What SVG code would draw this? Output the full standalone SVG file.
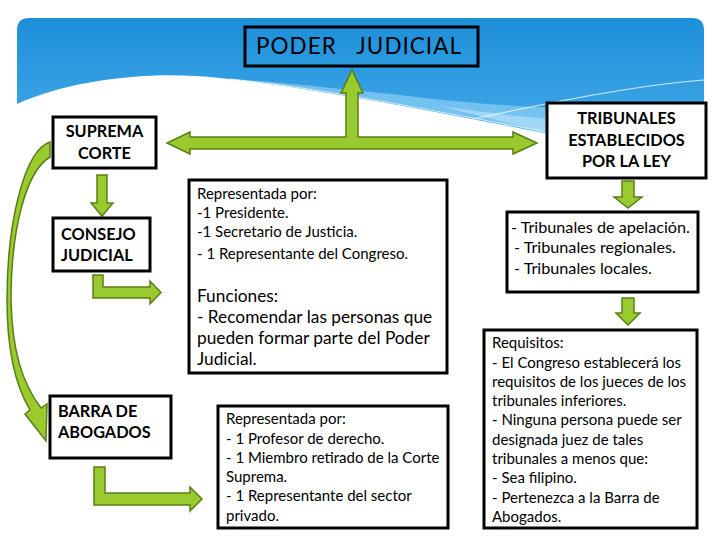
<svg xmlns="http://www.w3.org/2000/svg" width="720" height="540" viewBox="0 0 720 540">
<defs>
<linearGradient id="sky" x1="0" y1="0" x2="0" y2="1">
<stop offset="0" stop-color="#1c8fd9"/>
<stop offset="1" stop-color="#4fb0ec"/>
</linearGradient>
<style>
.box{fill:#fff;stroke:#000;stroke-width:3}
.arr{fill:#9acb2e;stroke:#5b7d19;stroke-width:1.5;stroke-linejoin:miter}
.t{font-family:Lato,"Open Sans","DejaVu Sans",sans-serif;fill:#000}
.b{font-weight:bold;font-size:16.3px}
.s{font-size:15px}
.m{font-size:17.3px}
</style>
</defs>
<rect width="720" height="540" fill="#fff"/>
<g id="banner">
<path d="M17 30 Q17 18 29 18 L692 18 Q704 18 704 30 L704 168 L560 136 C450 115 330 90 220 78 C150 70 70 80 17 104 Z" fill="url(#sky)"/>
<path d="M240 80 C330 90 450 112 560 136 L704 168 L704 105 C620 112 520 110 400 95 C330 88 280 82 240 80 Z" fill="#8ccff5" opacity="0.7"/>
<path d="M440 106 C540 120 620 130 704 110 L704 168 L560 136 Z" fill="#b5e0f8" opacity="0.7"/>
<path d="M230 79 C360 92 520 130 704 160" fill="none" stroke="#fff" stroke-width="0.8"/>
<path d="M460 122 C560 100 640 85 704 80" fill="none" stroke="#fff" stroke-width="0.8"/>
</g>
<g id="connectors">
<polygon class="arr" points="352,70 363,93 358,93 358,137 513,137 513,132 537,143 513,154 513,149 190,149 190,154 167,143 190,132 190,137 346,137 346,93 341,93"/>
<polygon class="arr" points="97,175 107,175 107,203 113,203 102,216 91,203 97,203"/>
<polygon class="arr" points="93,275 103,275 103,287 150,287 150,281 161,292.5 150,304 150,298 93,298"/>
<polygon class="arr" points="94,467 105,467 105,493 190,493 190,487 202,499 190,511 190,505 94,505"/>
<polygon class="arr" points="622,181 634,181 634,197 642,197 628,208 614,197 622,197"/>
<polygon class="arr" points="622,298 634,298 634,313 640,313 628,325 616,313 622,313"/>
<path class="arr" d="M50 142 C25 150 7 220 7 300 C7 350 15 385 30 410 L25 414 L46 441 L47 404 L41 408 C22 383 12 350 11 300 C11 232 25 172 50 157 Z"/>
</g>
<g id="poder">
<rect x="245" y="27" width="233" height="39" fill="none" stroke="#000" stroke-width="3"/>
<text class="t" x="256" y="54" font-size="22.5" letter-spacing="1" style="white-space:pre">PODER   JUDICIAL</text>
</g>
<g id="suprema">
<rect class="box" x="53" y="117" width="103" height="51"/>
<text class="t b" x="104.5" y="137" text-anchor="middle">SUPREMA</text>
<text class="t b" x="104.5" y="159" text-anchor="middle">CORTE</text>
</g>
<g id="consejo">
<rect class="box" x="53" y="218" width="97" height="53"/>
<text class="t b" x="61" y="240">CONSEJO</text>
<text class="t b" x="61" y="261">JUDICIAL</text>
</g>
<g id="barra">
<rect class="box" x="50" y="396" width="121" height="62"/>
<text class="t b" x="58" y="417">BARRA DE</text>
<text class="t b" x="58" y="438">ABOGADOS</text>
</g>
<g id="consejo-detalle">
<rect class="box" x="189" y="180" width="258" height="193"/>
<text class="t s" x="197" y="199">Representada por:</text>
<text class="t s" x="197" y="218">-1 Presidente.</text>
<text class="t s" x="197" y="237">-1 Secretario de Justicia.</text>
<text class="t s" x="197" y="259">- 1 Representante del Congreso.</text>
<text class="t m" x="197" y="302">Funciones:</text>
<text class="t m" x="197" y="323">- Recomendar las personas que</text>
<text class="t m" x="197" y="344">pueden formar parte del Poder</text>
<text class="t m" x="197" y="365">Judicial.</text>
</g>
<g id="barra-detalle">
<rect class="box" x="218" y="406" width="230" height="122"/>
<text class="t s" x="226" y="424">Representada por:</text>
<text class="t s" x="226" y="444">- 1 Profesor de derecho.</text>
<text class="t s" x="226" y="463">- 1 Miembro retirado de la Corte</text>
<text class="t s" x="226" y="482">Suprema.</text>
<text class="t s" x="226" y="501">- 1 Representante del sector</text>
<text class="t s" x="226" y="521">privado.</text>
</g>
<g id="tribunales">
<rect class="box" x="547" y="103" width="159" height="75"/>
<text class="t b" x="626.5" y="124" text-anchor="middle">TRIBUNALES</text>
<text class="t b" x="626.5" y="146" text-anchor="middle">ESTABLECIDOS</text>
<text class="t b" x="626.5" y="167" text-anchor="middle">POR LA LEY</text>
</g>
<g id="tribunales-lista">
<rect class="box" x="507" y="212" width="191" height="80"/>
<text class="t" x="511" y="233" font-size="16.2">- Tribunales de apelación.</text>
<text class="t" x="514" y="253" font-size="16.2">- Tribunales regionales.</text>
<text class="t" x="514" y="274" font-size="16.2">- Tribunales locales.</text>
</g>
<g id="requisitos">
<rect class="box" x="484" y="330" width="213" height="198"/>
<text class="t s" x="492" y="348">Requisitos:</text>
<text class="t s" x="492" y="368">- El Congreso establecerá los</text>
<text class="t s" x="492" y="387">requisitos de los jueces de los</text>
<text class="t s" x="492" y="406">tribunales inferiores.</text>
<text class="t s" x="492" y="425">- Ninguna persona puede ser</text>
<text class="t s" x="492" y="445">designada juez de tales</text>
<text class="t s" x="492" y="464">tribunales a menos que:</text>
<text class="t s" x="492" y="483">- Sea filipino.</text>
<text class="t s" x="492" y="503">- Pertenezca a la Barra de</text>
<text class="t s" x="492" y="522">Abogados.</text>
</g>
</svg>
